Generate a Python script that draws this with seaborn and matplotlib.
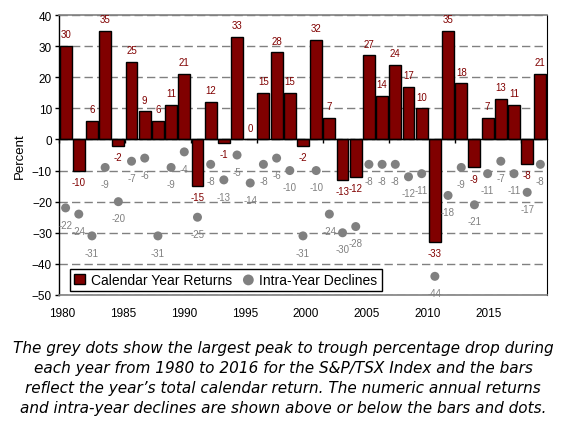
import numpy as np
import pandas as pd
import matplotlib
matplotlib.use("Agg")
import matplotlib.pyplot as plt
import seaborn as sns

YEARS = list(range(1980, 2017))
RETURNS = [30, -10, 6, 35, -2, 25, 9, 6, 11, 21,
           -15, 12, -1, 33, 0, 15, 28, 15, -2, 32,
           7, -13, -12, 27, 14, 24, 17, 10, -33, 35,
           18, -9, 7, 13, 11, -8, 21]
DECLINES = [-22, -24, -31, -9, -20, -7, -6, -31, -9, -4,
            -25, -8, -13, -5, -14, -8, -6, -10, -31, -10,
            -24, -30, -28, -8, -8, -8, -12, -11, -44, -18,
            -9, -21, -11, -7, -11, -17, -8]
Y_TICKS = [40, 30, 20, 10, 0, -10, -20, -30, -40, -50]
LABEL_YEARS = [1980, 1985, 1990, 1995, 2000, 2005, 2010, 2015]

BAR_COLOR = "#800000"
DOT_COLOR = "#808080"

CAPTION = ("The grey dots show the largest peak to trough percentage drop during\n"
           "each year from 1980 to 2016 for the S&P/TSX Index and the bars\n"
           "reflect the year\u2019s total calendar return. The numeric annual returns\n"
           "and intra-year declines are shown above or below the bars and dots.")

sns.set_theme(style="white")
plt.rcParams["font.family"] = ["Liberation Sans", "DejaVu Sans"]
plt.rcParams["text.color"] = "black"
plt.rcParams["axes.labelcolor"] = "black"

df = pd.DataFrame({"year": YEARS, "ret": RETURNS, "decline": DECLINES})

fig = plt.figure(figsize=(5.64, 4.27), dpi=100)
ax = fig.add_axes([0.1046, 0.3068, 0.8652, 0.6557])

sns.barplot(data=df, x="year", y="ret", native_scale=True, width=0.9,
            color=BAR_COLOR, saturation=1, edgecolor="black", linewidth=1,
            errorbar=None, label="Calendar Year Returns", ax=ax, zorder=3)
sns.scatterplot(data=df, x="year", y="decline", color=DOT_COLOR, s=42,
                edgecolor="none", label="Intra-Year Declines", ax=ax, zorder=4)

for yr, r in zip(YEARS, RETURNS):
    ax.annotate(f"{r}", (yr, r), xytext=(0, 8.5 if r >= 0 else -8),
                textcoords="offset points", ha="center", va="center",
                fontsize=7, color=BAR_COLOR, zorder=5)
for yr, d in zip(YEARS, DECLINES):
    ax.annotate(f"{d}", (yr, d), xytext=(0, -12),
                textcoords="offset points", ha="center", va="center",
                fontsize=7, color=DOT_COLOR, zorder=5)

ax.set_xlim(1979.5, 2016.5)
ax.set_ylim(-50, 40)
ax.set_yticks(Y_TICKS)
ax.tick_params(axis="y", labelsize=8.5, length=3, width=1, direction="out",
               left=True, pad=2, colors="black")
ax.set_xticks([y - 0.5 for y in LABEL_YEARS])
ax.set_xticklabels([])
ax.tick_params(axis="x", length=3, width=1, direction="out", bottom=True, colors="black")
ax.set_xlabel("")
ax.set_ylabel("Percent", fontsize=9.5, color="black")

ax.set_axisbelow(True)
ax.yaxis.grid(True, linestyle=(0, (6, 3)), color="#808080", linewidth=1)
ax.spines["bottom"].set_position(("data", 0))
ax.spines["bottom"].set_color("black")
ax.spines["bottom"].set_linewidth(1)
ax.spines["bottom"].set_zorder(3.5)
ax.spines["left"].set_color("black")
ax.spines["left"].set_linewidth(1)
ax.spines["right"].set_color("black")
ax.spines["right"].set_linewidth(0.8)
ax.spines["top"].set_color("#808080")
ax.spines["top"].set_linewidth(1.2)

# label axis at the bottom (offset scale, as in the original)
ax2 = ax.twiny()
ax2.set_xlim(1979.7, 2019.8)
ax2.set_xticks(LABEL_YEARS)
ax2.xaxis.set_ticks_position("bottom")
ax2.tick_params(axis="x", length=0, labelsize=8.5, pad=9, colors="black")
for side in ["top", "left", "right"]:
    ax2.spines[side].set_visible(False)
ax2.spines["bottom"].set_color("#808080")
ax2.spines["bottom"].set_linewidth(1.2)

handles, labels = ax.get_legend_handles_labels()
order = [labels.index("Calendar Year Returns"), labels.index("Intra-Year Declines")]
leg = ax.legend([handles[i] for i in order], [labels[i] for i in order],
                loc="lower left", bbox_to_anchor=(0.022, 0.014), borderaxespad=0,
                ncol=2, frameon=True, fancybox=False, framealpha=1,
                edgecolor="black", fontsize=10, handlelength=0.8, handleheight=0.8,
                handletextpad=0.4, columnspacing=0.8, borderpad=0.3, markerscale=1.2,
                labelcolor="black")
leg.get_frame().set_linewidth(1)

fig.text(0.502, 0.1136, CAPTION, ha="center", va="center", fontsize=11.0,
         style="italic", linespacing=1.4, family=["DejaVu Sans"], color="black")

fig.savefig("out.png", dpi=100)
